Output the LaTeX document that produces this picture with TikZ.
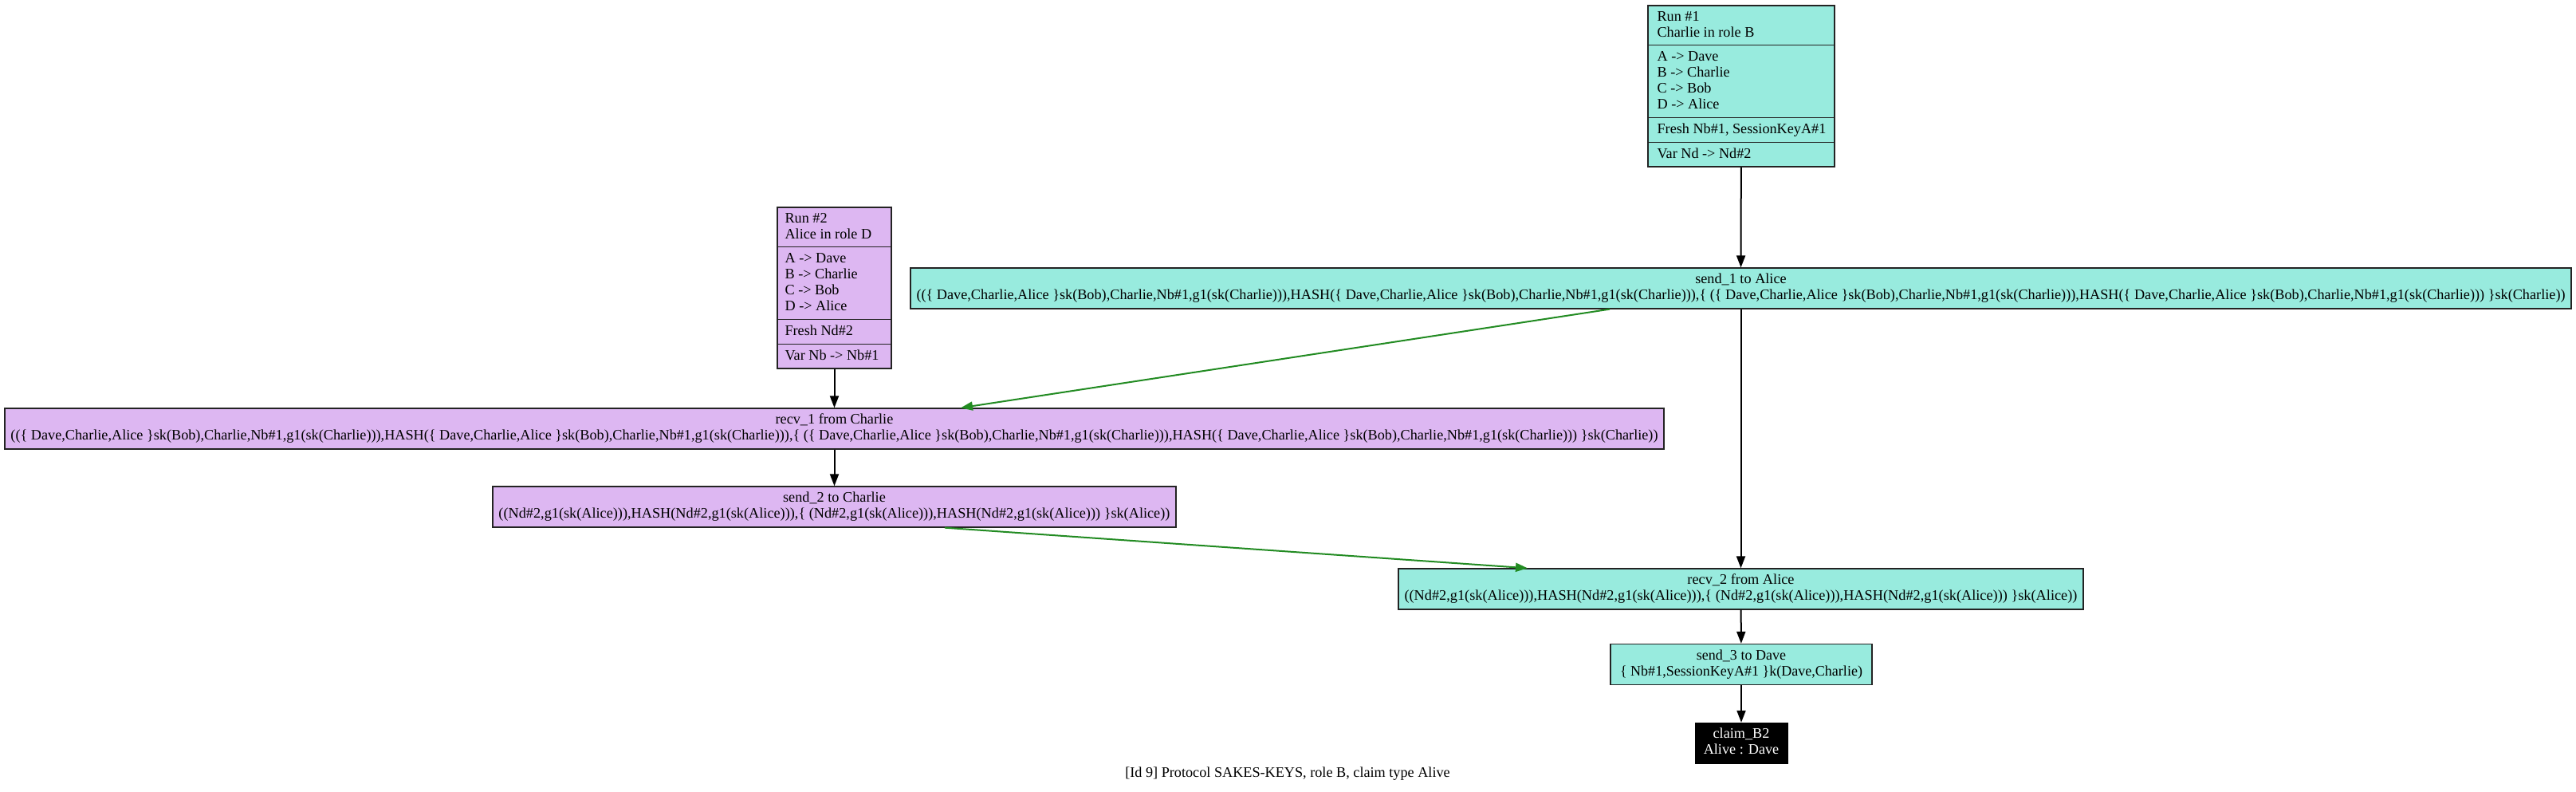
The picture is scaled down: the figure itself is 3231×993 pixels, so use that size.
\documentclass[tikz,border=0pt]{standalone}
\usepackage{fontspec}
\setmainfont{Liberation Serif}
\usepackage{graphicx}
\usetikzlibrary{arrows.meta,calc}
\definecolor{cyanfill}{RGB}{152,235,222}
\definecolor{purpfill}{RGB}{221,183,242}
\definecolor{edgegreen}{RGB}{34,139,34}
\definecolor{bordergray}{RGB}{35,35,35}
\newcommand\fitto[2]{\resizebox{#1}{\height}{#2}}
\newcommand\twol[2]{\begin{tabular}{@{}c@{}}#1\\#2\end{tabular}}
\newcommand\msgone{((\{ Dave,Charlie,Alice \}sk(Bob),Charlie,Nb\#1,g1(sk(Charlie))),HASH(\{ Dave,Charlie,Alice \}sk(Bob),Charlie,Nb\#1,g1(sk(Charlie))),\{ (\{ Dave,Charlie,Alice \}sk(Bob),Charlie,Nb\#1,g1(sk(Charlie))),HASH(\{ Dave,Charlie,Alice \}sk(Bob),Charlie,Nb\#1,g1(sk(Charlie))) \}sk(Charlie))}
\newcommand\msgtwo{((Nd\#2,g1(sk(Alice))),HASH(Nd\#2,g1(sk(Alice))),\{ (Nd\#2,g1(sk(Alice))),HASH(Nd\#2,g1(sk(Alice))) \}sk(Alice))}
\begin{document}
\begin{tikzpicture}[x=1pt,y=-1pt,
  every node/.style={font=\fontsize{18.2}{20}\selectfont},
  evt/.style={draw=bordergray, line width=1.3pt, rectangle, inner sep=0pt, minimum height=51pt},
  evtc/.style={evt, fill=cyanfill},
  evtp/.style={evt, fill=purpfill},
  runbox/.style={draw=bordergray, line width=1.3pt, rectangle, inner sep=0pt, minimum height=202pt},
  rtxt/.style={anchor=base west, inner sep=0pt},
  sep/.style={draw=bordergray, line width=1.3pt},
  arr/.style={line width=2pt, draw=black, -{Triangle[length=15pt,width=11pt]}},
  garr/.style={arr, draw=edgegreen}]
\useasboundingbox (0,0) rectangle (3231,993);

% Run #1
\node[runbox, fill=cyanfill, minimum width=234pt] (run1) at (2184,108) {};
\node[rtxt] (r1a) at ($(run1.north west)+(12,20)$) {Run \#1};
\node[rtxt] (r1b) at ($(run1.north west)+(12,40)$) {Charlie in role B};
\node[rtxt] (r1c) at ($(run1.north west)+(12,70)$) {A -> Dave};
\node[rtxt] (r1d) at ($(run1.north west)+(12,90)$) {B -> Charlie};
\node[rtxt] (r1e) at ($(run1.north west)+(12,110)$) {C -> Bob};
\node[rtxt] (r1f) at ($(run1.north west)+(12,130)$) {D -> Alice};
\node[rtxt] (r1g) at ($(run1.north west)+(12,161)$) {Fresh Nb\#1, SessionKeyA\#1};
\node[rtxt] (r1h) at ($(run1.north west)+(12,192)$) {Var Nd -> Nd\#2};
\foreach \d in {50,141,172}
  \draw[sep] ($(run1.north west)+(0,\d)$) -- ($(run1.north east)+(0,\d)$);

% Run #2
\node[runbox, fill=purpfill, minimum width=143pt] (run2) at (1046.5,361) {};
\node[rtxt] (r2a) at ($(run2.north west)+(10,20)$) {Run \#2};
\node[rtxt] (r2b) at ($(run2.north west)+(10,40)$) {Alice in role D};
\node[rtxt] (r2c) at ($(run2.north west)+(10,70)$) {A -> Dave};
\node[rtxt] (r2d) at ($(run2.north west)+(10,90)$) {B -> Charlie};
\node[rtxt] (r2e) at ($(run2.north west)+(10,110)$) {C -> Bob};
\node[rtxt] (r2f) at ($(run2.north west)+(10,130)$) {D -> Alice};
\node[rtxt] (r2g) at ($(run2.north west)+(10,161)$) {Fresh Nd\#2};
\node[rtxt] (r2h) at ($(run2.north west)+(10,192)$) {Var Nb -> Nb\#1};
\foreach \d in {50,141,172}
  \draw[sep] ($(run2.north west)+(0,\d)$) -- ($(run2.north east)+(0,\d)$);

% events
\node[evtc, minimum width=2083pt] (send1) at (2183.5,361.5)
  {\fitto{2068pt}{\twol{send\_1 to Alice}{\msgone}}};
\node[evtp, minimum width=2081pt] (recv1) at (1046.5,537.5)
  {\fitto{2066pt}{\twol{recv\_1 from Charlie}{\msgone}}};
\node[evtp, minimum width=857pt] (send2) at (1046.5,635.5)
  {\fitto{842pt}{\twol{send\_2 to Charlie}{\msgtwo}}};
\node[evtc, minimum width=859pt] (recv2) at (2183.5,738.5)
  {\fitto{844pt}{\twol{recv\_2 from Alice}{\msgtwo}}};
\node[evtc, minimum width=328pt] (send3) at (2184,833)
  {\fitto{304pt}{\twol{send\_3 to Dave}{\{ Nb\#1,SessionKeyA\#1 \}k(Dave,Charlie)}}};
\node[rectangle, fill=black, draw=black, text=white, inner sep=0pt, minimum width=116pt, minimum height=51pt] (claim) at (2184,931.5)
  {\twol{claim\_B2}{Alive : Dave}};

% caption
\node (cap) at (1615,970) {[Id 9] Protocol SAKES-KEYS, role B, claim type Alive};

% edges
\draw[arr] (run1) -- (send1);
\draw[arr] (send1) -- (recv2);
\draw[garr] ([xshift=-164.5pt]send1.south) -- ([xshift=158.5pt]recv1.north);
\draw[arr] (run2) -- (recv1);
\draw[arr] (recv1) -- (send2);
\draw[garr] ([xshift=138.5pt]send2.south) -- ([xshift=-267.5pt]recv2.north);
\draw[arr] (recv2) -- (send3);
\draw[arr] (send3) -- (claim);
\end{tikzpicture}
\end{document}
